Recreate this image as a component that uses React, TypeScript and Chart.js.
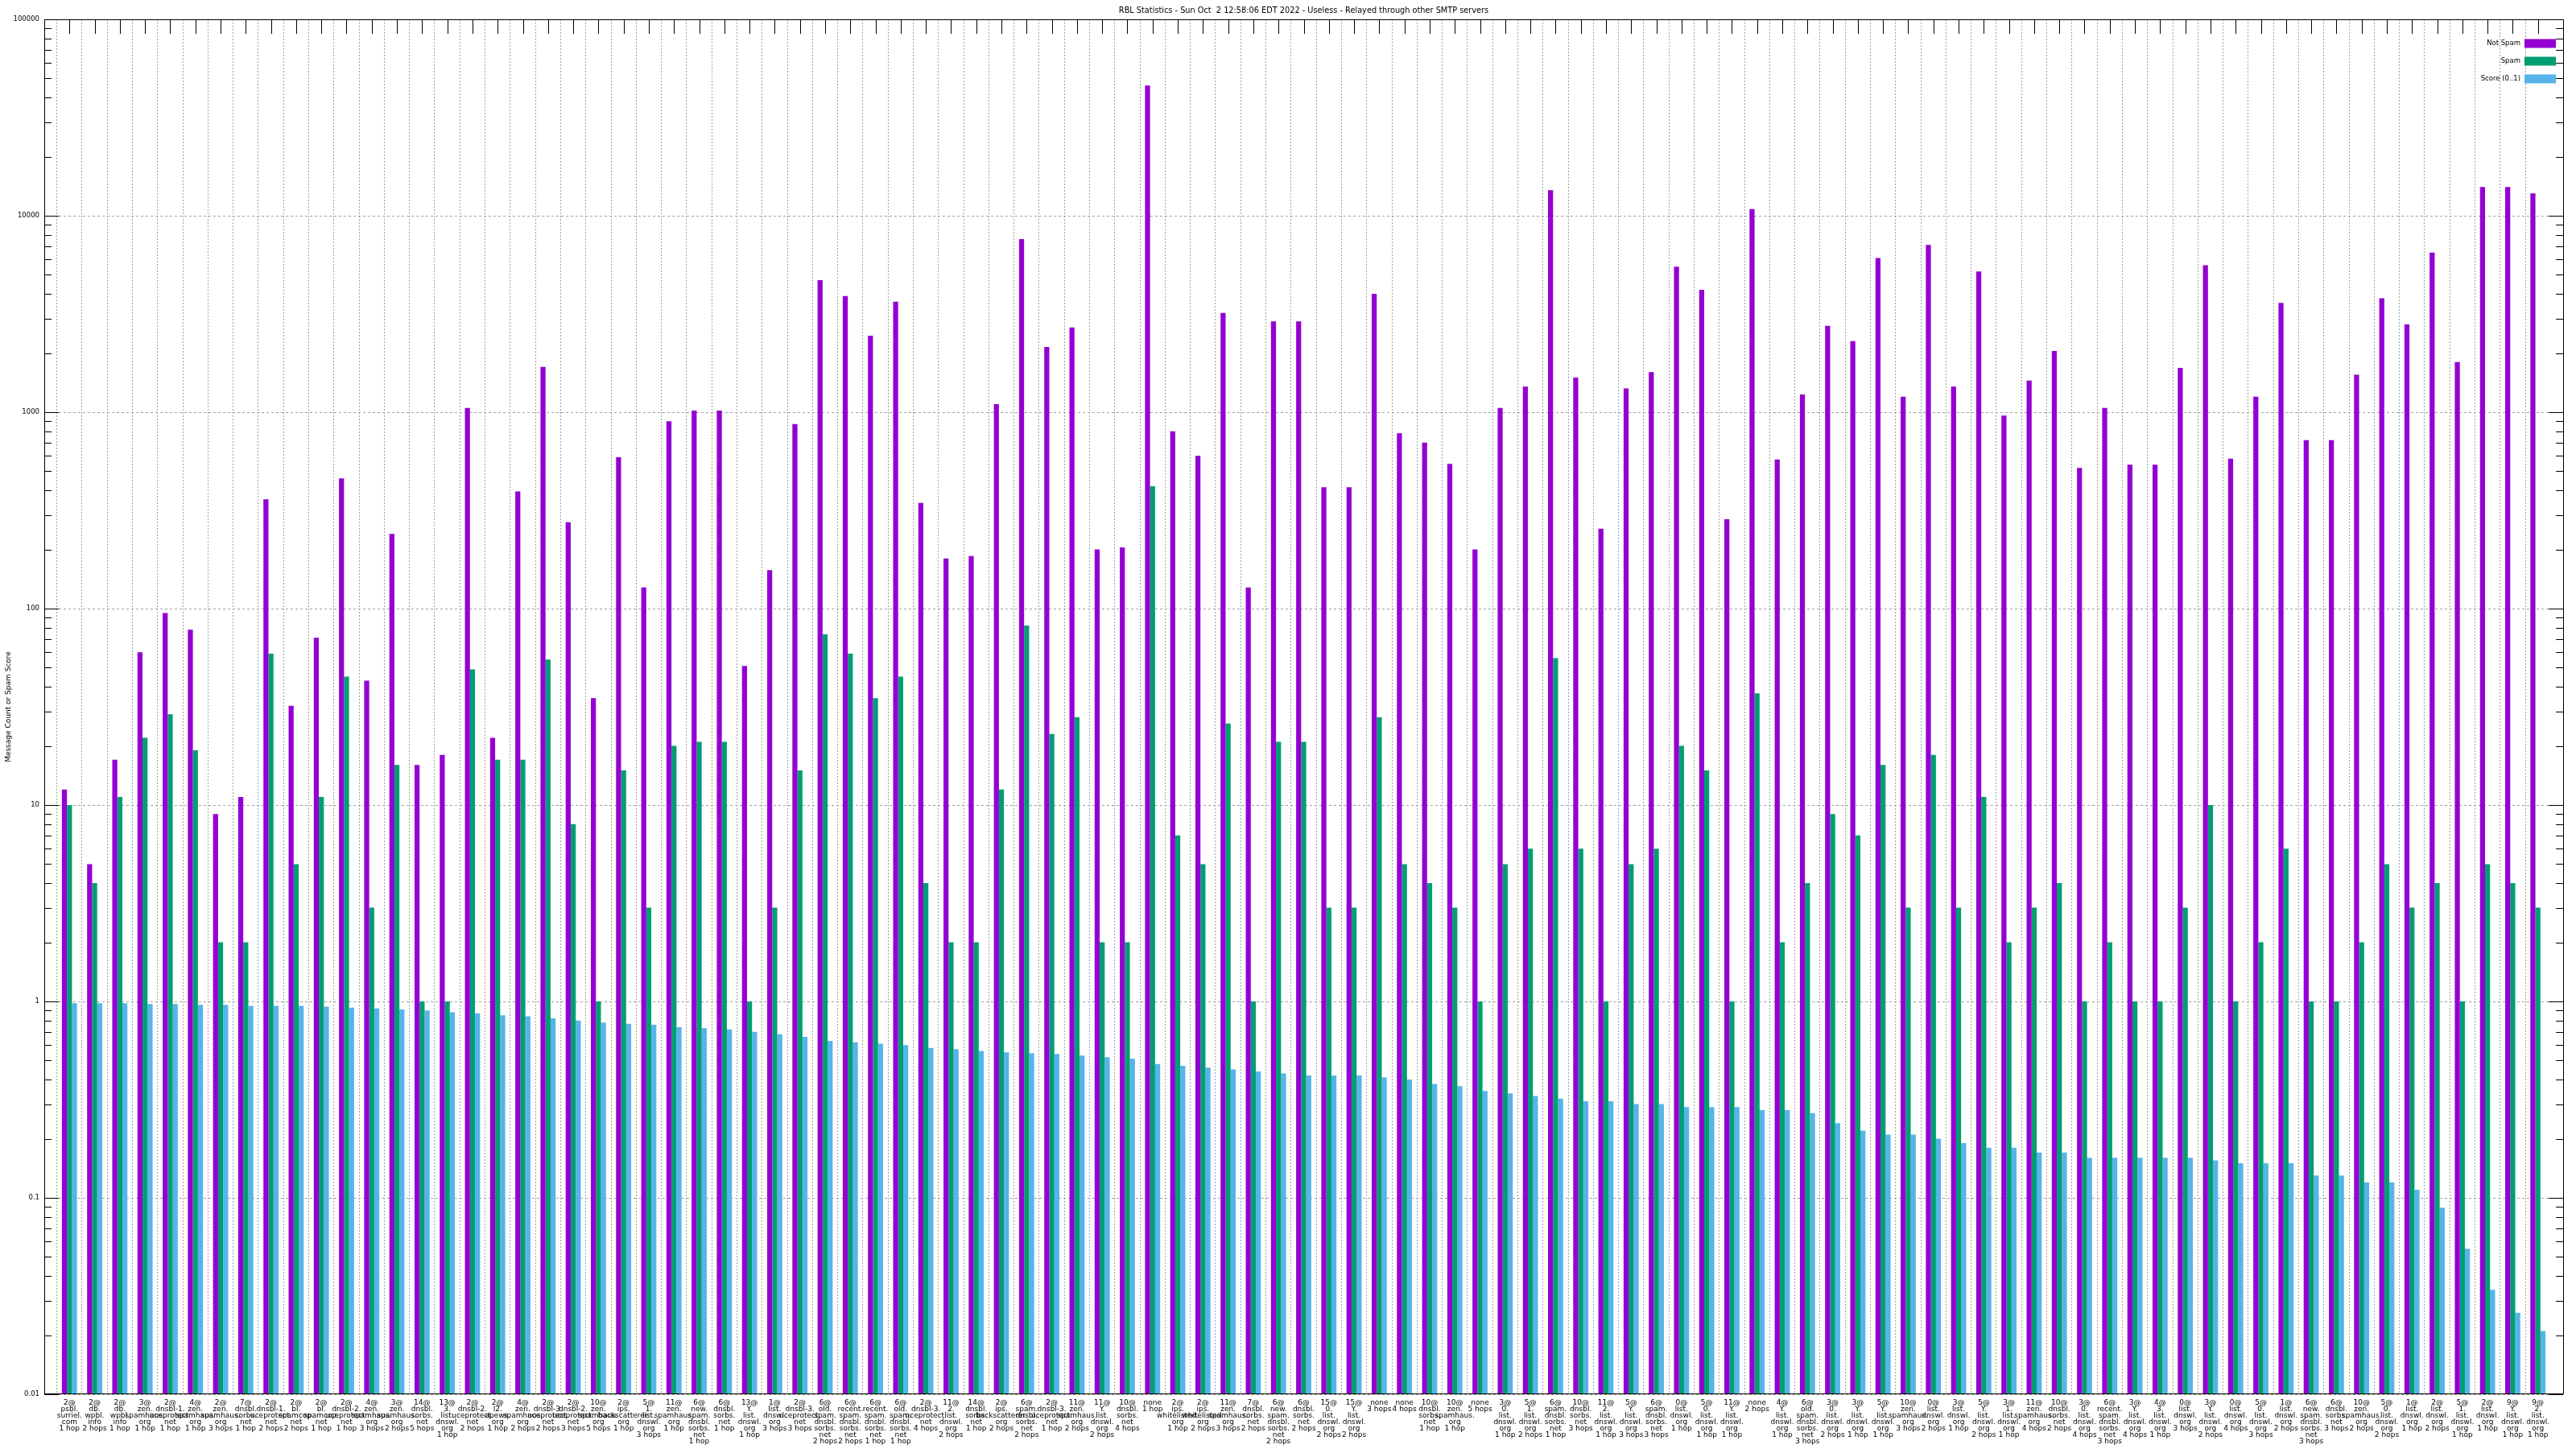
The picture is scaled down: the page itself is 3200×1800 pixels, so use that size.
import React, { useEffect, useRef } from 'react';
import { Chart, registerables } from 'chart.js';

Chart.register(...registerables);

const TITLE = 'RBL Statistics - Sun Oct  2 12:58:06 EDT 2022 - Useless - Relayed through other SMTP servers';
const Y_AXIS_TITLE = 'Message Count or Spam Score';
const SERIES_NAMES = ['Not Spam', 'Spam', 'Score (0..1)'];
const SERIES_COLORS = ['#9400d3', '#009e73', '#56b4e9'];
const Y_TICK_LABELS = ['0.01', '0.1', '1', '10', '100', '1000', '10000', '100000'];

const CATEGORIES = [
  '2@\npsbl.\nsurriel.\ncom\n1 hop',
  '2@\ndb.\nwpbl.\ninfo\n2 hops',
  '2@\ndb.\nwpbl.\ninfo\n1 hop',
  '3@\nzen.\nspamhaus.\norg\n1 hop',
  '2@\ndnsbl-1.\nuceprotect.\nnet\n1 hop',
  '4@\nzen.\nspamhaus.\norg\n1 hop',
  '2@\nzen.\nspamhaus.\norg\n3 hops',
  '7@\ndnsbl.\nsorbs.\nnet\n1 hop',
  '2@\ndnsbl-1.\nuceprotect.\nnet\n2 hops',
  '2@\nbl.\nspamcop.\nnet\n2 hops',
  '2@\nbl.\nspamcop.\nnet\n1 hop',
  '2@\ndnsbl-2.\nuceprotect.\nnet\n1 hop',
  '4@\nzen.\nspamhaus.\norg\n3 hops',
  '3@\nzen.\nspamhaus.\norg\n2 hops',
  '14@\ndnsbl.\nsorbs.\nnet\n5 hops',
  '13@\n3.\nlist.\ndnswl.\norg\n1 hop',
  '2@\ndnsbl-2.\nuceprotect.\nnet\n2 hops',
  '2@\nl2.\napews.\norg\n1 hop',
  '4@\nzen.\nspamhaus.\norg\n2 hops',
  '2@\ndnsbl-3.\nuceprotect.\nnet\n2 hops',
  '2@\ndnsbl-2.\nuceprotect.\nnet\n3 hops',
  '10@\nzen.\nspamhaus.\norg\n5 hops',
  '2@\nips.\nbackscatterer.\norg\n1 hop',
  '5@\n1.\nlist.\ndnswl.\norg\n3 hops',
  '11@\nzen.\nspamhaus.\norg\n1 hop',
  '6@\nnew.\nspam.\ndnsbl.\nsorbs.\nnet\n1 hop',
  '6@\ndnsbl.\nsorbs.\nnet\n1 hop',
  '13@\nY.\nlist.\ndnswl.\norg\n1 hop',
  '1@\nlist.\ndnswl.\norg\n3 hops',
  '2@\ndnsbl-3.\nuceprotect.\nnet\n3 hops',
  '6@\nold.\nspam.\ndnsbl.\nsorbs.\nnet\n2 hops',
  '6@\nrecent.\nspam.\ndnsbl.\nsorbs.\nnet\n2 hops',
  '6@\nrecent.\nspam.\ndnsbl.\nsorbs.\nnet\n1 hop',
  '6@\nold.\nspam.\ndnsbl.\nsorbs.\nnet\n1 hop',
  '2@\ndnsbl-3.\nuceprotect.\nnet\n4 hops',
  '11@\n2.\nlist.\ndnswl.\norg\n2 hops',
  '14@\ndnsbl.\nsorbs.\nnet\n1 hop',
  '2@\nips.\nbackscatterer.\norg\n2 hops',
  '6@\nspam.\ndnsbl.\nsorbs.\nnet\n2 hops',
  '2@\ndnsbl-3.\nuceprotect.\nnet\n1 hop',
  '11@\nzen.\nspamhaus.\norg\n2 hops',
  '11@\nY.\nlist.\ndnswl.\norg\n2 hops',
  '10@\ndnsbl.\nsorbs.\nnet\n4 hops',
  'none\n1 hop',
  '2@\nips.\nwhitelisted.\norg\n1 hop',
  '2@\nips.\nwhitelisted.\norg\n2 hops',
  '11@\nzen.\nspamhaus.\norg\n3 hops',
  '7@\ndnsbl.\nsorbs.\nnet\n2 hops',
  '6@\nnew.\nspam.\ndnsbl.\nsorbs.\nnet\n2 hops',
  '6@\ndnsbl.\nsorbs.\nnet\n2 hops',
  '15@\n0.\nlist.\ndnswl.\norg\n2 hops',
  '15@\nY.\nlist.\ndnswl.\norg\n2 hops',
  'none\n3 hops',
  'none\n4 hops',
  '10@\ndnsbl.\nsorbs.\nnet\n1 hop',
  '10@\nzen.\nspamhaus.\norg\n1 hop',
  'none\n5 hops',
  '3@\n0.\nlist.\ndnswl.\norg\n1 hop',
  '5@\n1.\nlist.\ndnswl.\norg\n2 hops',
  '6@\nspam.\ndnsbl.\nsorbs.\nnet\n1 hop',
  '10@\ndnsbl.\nsorbs.\nnet\n3 hops',
  '11@\n2.\nlist.\ndnswl.\norg\n1 hop',
  '5@\nY.\nlist.\ndnswl.\norg\n3 hops',
  '6@\nspam.\ndnsbl.\nsorbs.\nnet\n3 hops',
  '0@\nlist.\ndnswl.\norg\n1 hop',
  '5@\n0.\nlist.\ndnswl.\norg\n1 hop',
  '11@\nY.\nlist.\ndnswl.\norg\n1 hop',
  'none\n2 hops',
  '4@\nY.\nlist.\ndnswl.\norg\n1 hop',
  '6@\nold.\nspam.\ndnsbl.\nsorbs.\nnet\n3 hops',
  '3@\n0.\nlist.\ndnswl.\norg\n2 hops',
  '3@\nY.\nlist.\ndnswl.\norg\n1 hop',
  '5@\nY.\nlist.\ndnswl.\norg\n1 hop',
  '10@\nzen.\nspamhaus.\norg\n3 hops',
  '0@\nlist.\ndnswl.\norg\n2 hops',
  '3@\nlist.\ndnswl.\norg\n1 hop',
  '5@\nY.\nlist.\ndnswl.\norg\n2 hops',
  '3@\n1.\nlist.\ndnswl.\norg\n1 hop',
  '11@\nzen.\nspamhaus.\norg\n4 hops',
  '10@\ndnsbl.\nsorbs.\nnet\n2 hops',
  '3@\n0.\nlist.\ndnswl.\norg\n4 hops',
  '6@\nrecent.\nspam.\ndnsbl.\nsorbs.\nnet\n3 hops',
  '3@\nY.\nlist.\ndnswl.\norg\n4 hops',
  '4@\n3.\nlist.\ndnswl.\norg\n1 hop',
  '0@\nlist.\ndnswl.\norg\n3 hops',
  '3@\nY.\nlist.\ndnswl.\norg\n2 hops',
  '0@\nlist.\ndnswl.\norg\n4 hops',
  '5@\n0.\nlist.\ndnswl.\norg\n3 hops',
  '1@\nlist.\ndnswl.\norg\n2 hops',
  '6@\nnew.\nspam.\ndnsbl.\nsorbs.\nnet\n3 hops',
  '6@\ndnsbl.\nsorbs.\nnet\n3 hops',
  '10@\nzen.\nspamhaus.\norg\n2 hops',
  '5@\n0.\nlist.\ndnswl.\norg\n2 hops',
  '1@\nlist.\ndnswl.\norg\n1 hop',
  '2@\nlist.\ndnswl.\norg\n2 hops',
  '5@\n1.\nlist.\ndnswl.\norg\n1 hop',
  '2@\nlist.\ndnswl.\norg\n1 hop',
  '9@\nY.\nlist.\ndnswl.\norg\n1 hop',
  '9@\n2.\nlist.\ndnswl.\norg\n1 hop',
];

const NOT_SPAM = [
  12, 5, 17, 60, 95, 78, 9, 11, 360, 32,
  71, 460, 43, 240, 16, 18, 1050, 22, 395, 1700,
  275, 35, 590, 128, 900, 1020, 1020, 51, 157, 870,
  4700, 3900, 2450, 3650, 345, 180, 185, 1100, 7600, 2150,
  2700, 200, 205, 46000, 800, 600, 3200, 128, 2900, 2900,
  415, 415, 4000, 780, 700, 545, 200, 1050, 1350, 13500,
  1500, 255, 1320, 1600, 5500, 4200, 285, 10800, 575, 1230,
  2750, 2300, 6100, 1200, 7100, 1350, 5200, 960, 1450, 2050,
  520, 1050, 540, 540, 1680, 5600, 580, 1200, 3600, 720,
  720, 1550, 3800, 2800, 6500, 1800, 14000, 14000, 13000,
];

const SPAM = [
  10, 4, 11, 22, 29, 19, 2, 2, 59, 5,
  11, 45, 3, 16, 1, 1, 49, 17, 17, 55,
  8, 1, 15, 3, 20, 21, 21, 1, 3, 15,
  74, 59, 35, 45, 4, 2, 2, 12, 82, 23,
  28, 2, 2, 420, 7, 5, 26, 1, 21, 21,
  3, 3, 28, 5, 4, 3, 1, 5, 6, 56,
  6, 1, 5, 6, 20, 15, 1, 37, 2, 4,
  9, 7, 16, 3, 18, 3, 11, 2, 3, 4,
  1, 2, 1, 1, 3, 10, 1, 2, 6, 1,
  1, 2, 5, 3, 4, 1, 5, 4, 3,
];

const SCORE = [
  0.98, 0.98, 0.98, 0.97, 0.97, 0.96, 0.96, 0.95, 0.95, 0.95,
  0.94, 0.93, 0.92, 0.91, 0.9, 0.88, 0.87, 0.85, 0.84, 0.82,
  0.8, 0.78, 0.77, 0.76, 0.74, 0.73, 0.72, 0.7, 0.68, 0.66,
  0.63, 0.62, 0.61, 0.6, 0.58, 0.57, 0.56, 0.55, 0.545, 0.54,
  0.53, 0.52, 0.51, 0.48, 0.47, 0.46, 0.45, 0.44, 0.43, 0.42,
  0.42, 0.42, 0.41, 0.4, 0.38, 0.37, 0.35, 0.34, 0.33, 0.32,
  0.31, 0.31, 0.3, 0.3, 0.29, 0.29, 0.29, 0.28, 0.28, 0.27,
  0.24, 0.22, 0.21, 0.21, 0.2, 0.19, 0.18, 0.18, 0.17, 0.17,
  0.16, 0.16, 0.16, 0.16, 0.16, 0.155, 0.15, 0.15, 0.15, 0.13,
  0.13, 0.12, 0.12, 0.11, 0.089, 0.055, 0.034, 0.026, 0.021,
];

const FONT = '"DejaVu Sans"';
const N = CATEGORIES.length;

const isMajor = (v: number) => {
  const e = Math.log10(v);
  return Math.abs(e - Math.round(e)) < 1e-6;
};

const gnuplotDecor = {
  id: 'gnuplotDecor',
  afterDatasetsDraw(chart: any) {
    const { ctx, chartArea, scales } = chart;
    const { left, right, top, bottom } = chartArea;
    const x = scales.x;
    const y = scales.y;
    ctx.save();
    ctx.strokeStyle = '#000';
    ctx.lineWidth = 1;
    ctx.beginPath();
    Y_TICK_LABELS.forEach((_, k) => {
      const e = k - 2;
      for (let m = 1; m <= 9; m++) {
        const v = m * Math.pow(10, e);
        if (v > y.max * 1.0001) break;
        const py = Math.round(y.getPixelForValue(v)) + 0.5;
        const len = m === 1 ? 18 : 9;
        ctx.moveTo(left, py);
        ctx.lineTo(left + len, py);
        ctx.moveTo(right, py);
        ctx.lineTo(right - len, py);
      }
    });
    CATEGORIES.forEach((_, i) => {
      const px = Math.round(x.getPixelForValue(i)) + 0.5;
      ctx.moveTo(px, top);
      ctx.lineTo(px, top + 18);
    });
    ctx.stroke();
    ctx.strokeRect(Math.round(left) + 0.5, Math.round(top) + 0.5, Math.round(right - left), Math.round(bottom - top) - 1);

    // title
    ctx.fillStyle = '#000';
    ctx.font = `9.75px ${FONT}`;
    ctx.textAlign = 'center';
    ctx.textBaseline = 'middle';
    ctx.fillText(TITLE, (left + right) / 2, 13);

    // legend (key) inside top-right
    ctx.font = `8.5px ${FONT}`;
    ctx.textAlign = 'right';
    chart.data.datasets.forEach((ds: any, k: number) => {
      const cy = top + 30 + 22 * k;
      ctx.fillStyle = '#000';
      ctx.fillText(ds.label, right - 53, cy);
      ctx.fillStyle = ds.backgroundColor;
      ctx.fillRect(right - 48, cy - 5.5, 39, 11);
    });
    ctx.restore();
  },
};

export default function App() {
  const canvasRef = useRef<HTMLCanvasElement | null>(null);

  useEffect(() => {
    const canvas = canvasRef.current;
    if (!canvas) return;
    const values = [NOT_SPAM, SPAM, SCORE];
    const chart = new Chart(canvas, {
      type: 'bar',
      data: {
        labels: CATEGORIES.map((_, i) => i),
        datasets: SERIES_NAMES.map((name, k) => ({
          label: name,
          data: values[k],
          backgroundColor: SERIES_COLORS[k],
          borderWidth: 0,
          categoryPercentage: 0.6,
          barPercentage: 1.0,
        })),
      },
      options: {
        responsive: false,
        devicePixelRatio: 1,
        animation: false,
        layout: { padding: { left: 0, right: 16, top: 24, bottom: 0 } },
        plugins: {
          legend: { display: false },
          tooltip: { enabled: false },
          title: { display: false },
        },
        scales: {
          x: {
            type: 'linear',
            min: -1,
            max: N,
            offset: false,
            afterFit: (s: any) => {
              s.height = 68;
            },
            grid: {
              color: (c: any) =>
                c.tick && c.tick.value >= 0 && c.tick.value < N ? '#a0a0a0' : 'rgba(0,0,0,0)',
              lineWidth: 1,
              drawTicks: false,
            },
            border: { display: false, dash: [2, 2] },
            ticks: {
              stepSize: 1,
              maxTicksLimit: 1000,
              autoSkip: false,
              maxRotation: 0,
              minRotation: 0,
              padding: 7,
              color: '#000',
              font: { family: 'DejaVu Sans', size: 9, lineHeight: 0.89 },
              callback: (v: any) => {
                const i = Number(v);
                return Number.isInteger(i) && i >= 0 && i < N ? CATEGORIES[i].split('\n') : '';
              },
            },
          },
          y: {
            type: 'logarithmic',
            min: 0.01,
            max: 100000,
            afterFit: (s: any) => {
              s.width = 55;
            },
            grid: {
              color: (c: any) => (c.tick && isMajor(c.tick.value) ? '#a0a0a0' : 'rgba(0,0,0,0)'),
              lineWidth: 1,
              drawTicks: false,
            },
            border: { display: false, dash: [3, 3] },
            title: {
              display: true,
              text: Y_AXIS_TITLE,
              color: '#000',
              font: { family: 'DejaVu Sans', size: 9 },
              padding: { top: 5, bottom: 0 },
            },
            ticks: {
              autoSkip: false,
              padding: 6,
              color: '#000',
              font: { family: 'DejaVu Sans', size: 8.5 },
              callback: (v: any) => {
                const e = Math.log10(Number(v));
                const r = Math.round(e);
                return Math.abs(e - r) < 1e-6 ? Y_TICK_LABELS[r + 2] : '';
              },
            },
          },
        },
      },
      plugins: [gnuplotDecor],
    } as any);
    return () => chart.destroy();
  }, []);

  return (
    <div style={{ position: 'fixed', left: 0, top: 0, width: 3200, height: 1800, background: '#fff' }}>
      <canvas ref={canvasRef} width={3200} height={1800} style={{ display: 'block', width: 3200, height: 1800 }} />
    </div>
  );
}
